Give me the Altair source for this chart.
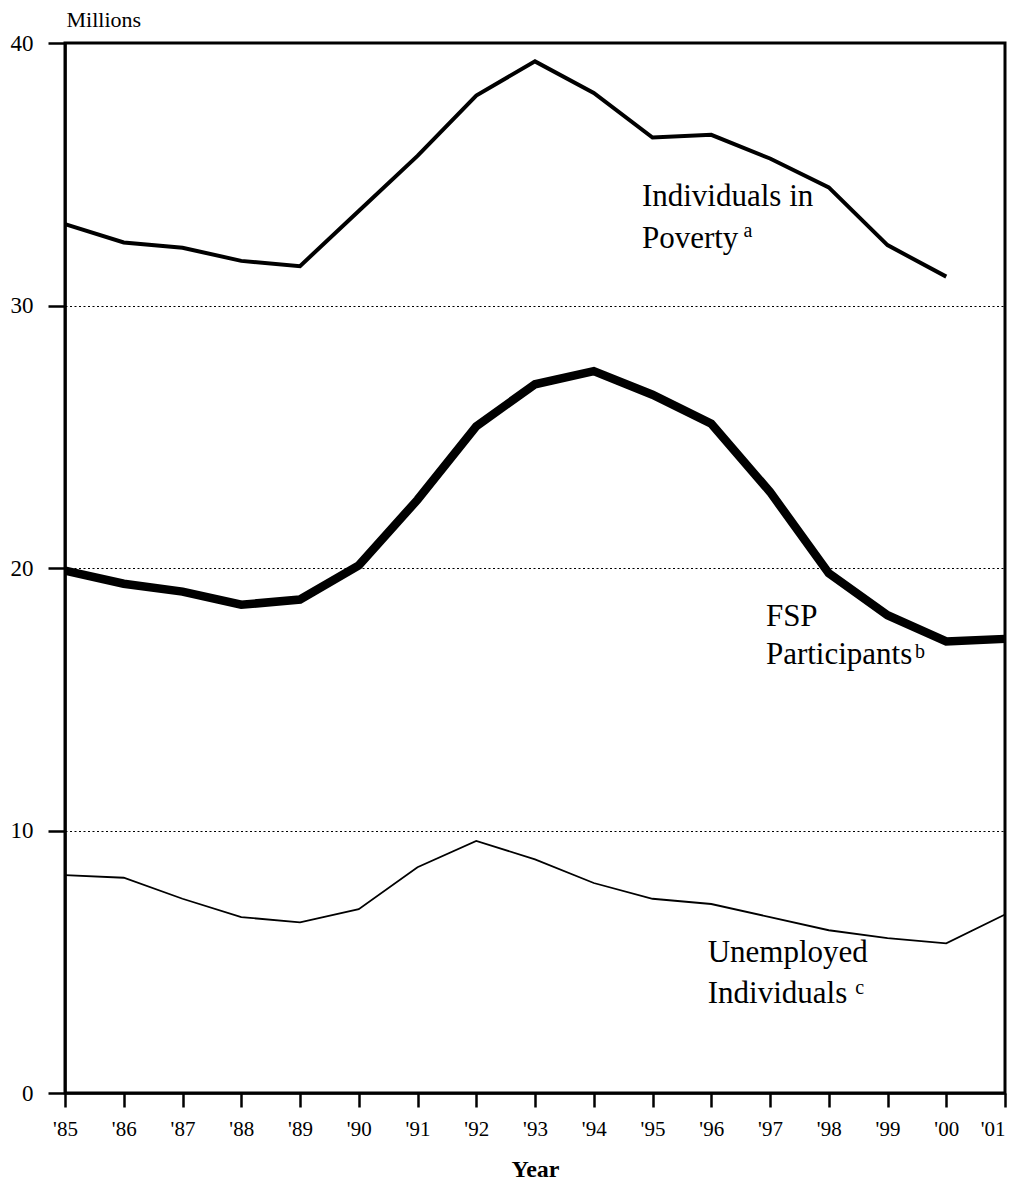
import altair as alt
import pandas as pd

FONT = "Liberation Serif, Times New Roman, Times, serif"

years = list(range(1985, 2002))
year_labels = ["'85", "'86", "'87", "'88", "'89", "'90", "'91", "'92", "'93",
               "'94", "'95", "'96", "'97", "'98", "'99", "'00", "'01"]

poverty = [33.1, 32.4, 32.2, 31.7, 31.5, 33.6, 35.7, 38.0, 39.3, 38.1,
           36.4, 36.5, 35.6, 34.5, 32.3, 31.1]
fsp = [19.9, 19.4, 19.1, 18.6, 18.8, 20.1, 22.6, 25.4, 27.0, 27.5,
       26.6, 25.5, 22.9, 19.8, 18.2, 17.2, 17.3]
unemployed = [8.3, 8.2, 7.4, 6.7, 6.5, 7.0, 8.6, 9.6, 8.9, 8.0,
              7.4, 7.2, 6.7, 6.2, 5.9, 5.7, 6.8]

rows = []
for name, vals in [("Poverty", poverty), ("FSP", fsp), ("Unemployed", unemployed)]:
    for yr, v in zip(years, vals):
        rows.append({"year": yr, "value": v, "series": name})
df = pd.DataFrame(rows)

# annotation labels (anchored in data coordinates)
label_text = ["Individuals in", "Poverty", "FSP", "Participants", "Unemployed", "Individuals"]
label_x = [1994.82, 1994.82, 1996.93, 1996.93, 1995.94, 1995.94]
label_y = [33.79, 32.19, 17.79, 16.34, 4.99, 3.43]
sup_text = ["a", "b", "c"]
sup_x = [1996.55, 1999.47, 1998.45]
sup_y = [32.61, 16.57, 3.77]

labels_df = pd.DataFrame({"x": label_x, "y": label_y, "t": label_text})
sup_df = pd.DataFrame({"x": sup_x, "y": sup_y, "t": sup_text})

# map year value -> tick label from the list
label_map = "{" + ",".join(f"'{y}': \"{l}\"" for y, l in zip(years, year_labels)) + "}"
label_expr = label_map + "[toString(datum.value)]"

x_enc = alt.X("year:Q",
              scale=alt.Scale(domain=[1985, 2001], nice=False, zero=False),
              axis=alt.Axis(values=years, labelExpr=label_expr, title="Year",
                            tickSize=14, labelPadding=11, labelFontSize=21,
                            labelFlush=False, labelOverlap=False,
                            labelAlign={"condition": {"test": "datum.value == 2001", "value": "right"},
                                        "value": "center"},
                            titleFontSize=24, titleFontWeight="bold",
                            titleBaseline="alphabetic", titleY=83,
                            grid=False, domainWidth=2.5, tickWidth=2.5,
                            domainColor="black", tickColor="black",
                            labelColor="black", titleColor="black",
                            labelFont=FONT, titleFont=FONT))
y_enc = alt.Y("value:Q",
              scale=alt.Scale(domain=[0, 40], nice=False),
              axis=alt.Axis(values=[0, 10, 20, 30, 40], title="Millions",
                            tickSize=17, labelPadding=15, labelFontSize=23,
                            labelFlush=False,
                            titleAngle=0, titleAlign="left", titleBaseline="alphabetic",
                            titleX=1, titleY=-17, titleFontSize=22,
                            titleFontWeight="normal",
                            grid=True, gridColor="black", gridDash=[2, 2.5],
                            gridWidth=1.2, gridOpacity=1,
                            domainWidth=2.5, tickWidth=2.5,
                            domainColor="black", tickColor="black",
                            labelColor="black", titleColor="black",
                            labelFont=FONT, titleFont=FONT))

base = alt.Chart(df)

pov_line = base.transform_filter(alt.datum.series == "Poverty").mark_line(
    color="black", strokeWidth=4).encode(x=x_enc, y=y_enc)
fsp_line = base.transform_filter(alt.datum.series == "FSP").mark_line(
    color="black", strokeWidth=8.5).encode(x="year:Q", y="value:Q")
un_line = base.transform_filter(alt.datum.series == "Unemployed").mark_line(
    color="black", strokeWidth=1.8).encode(x="year:Q", y="value:Q")

labels = alt.Chart(labels_df).mark_text(
    align="left", baseline="alphabetic", fontSize=31, color="black",
    font=FONT).encode(x="x:Q", y="y:Q", text="t:N")
sups = alt.Chart(sup_df).mark_text(
    align="left", baseline="alphabetic", fontSize=20, color="black",
    font=FONT).encode(x="x:Q", y="y:Q", text="t:N")

chart = alt.layer(pov_line, fsp_line, un_line, labels, sups).properties(
    width=940, height=1050,
    autosize=alt.AutoSizeParams(type="none"),
    padding={"left": 57, "top": 35, "right": 4, "bottom": 89},
).configure(font=FONT, background="white").configure_view(
    stroke="black", strokeWidth=3)

chart.save("out.html", embed_options={"renderer": "svg", "actions": False})
